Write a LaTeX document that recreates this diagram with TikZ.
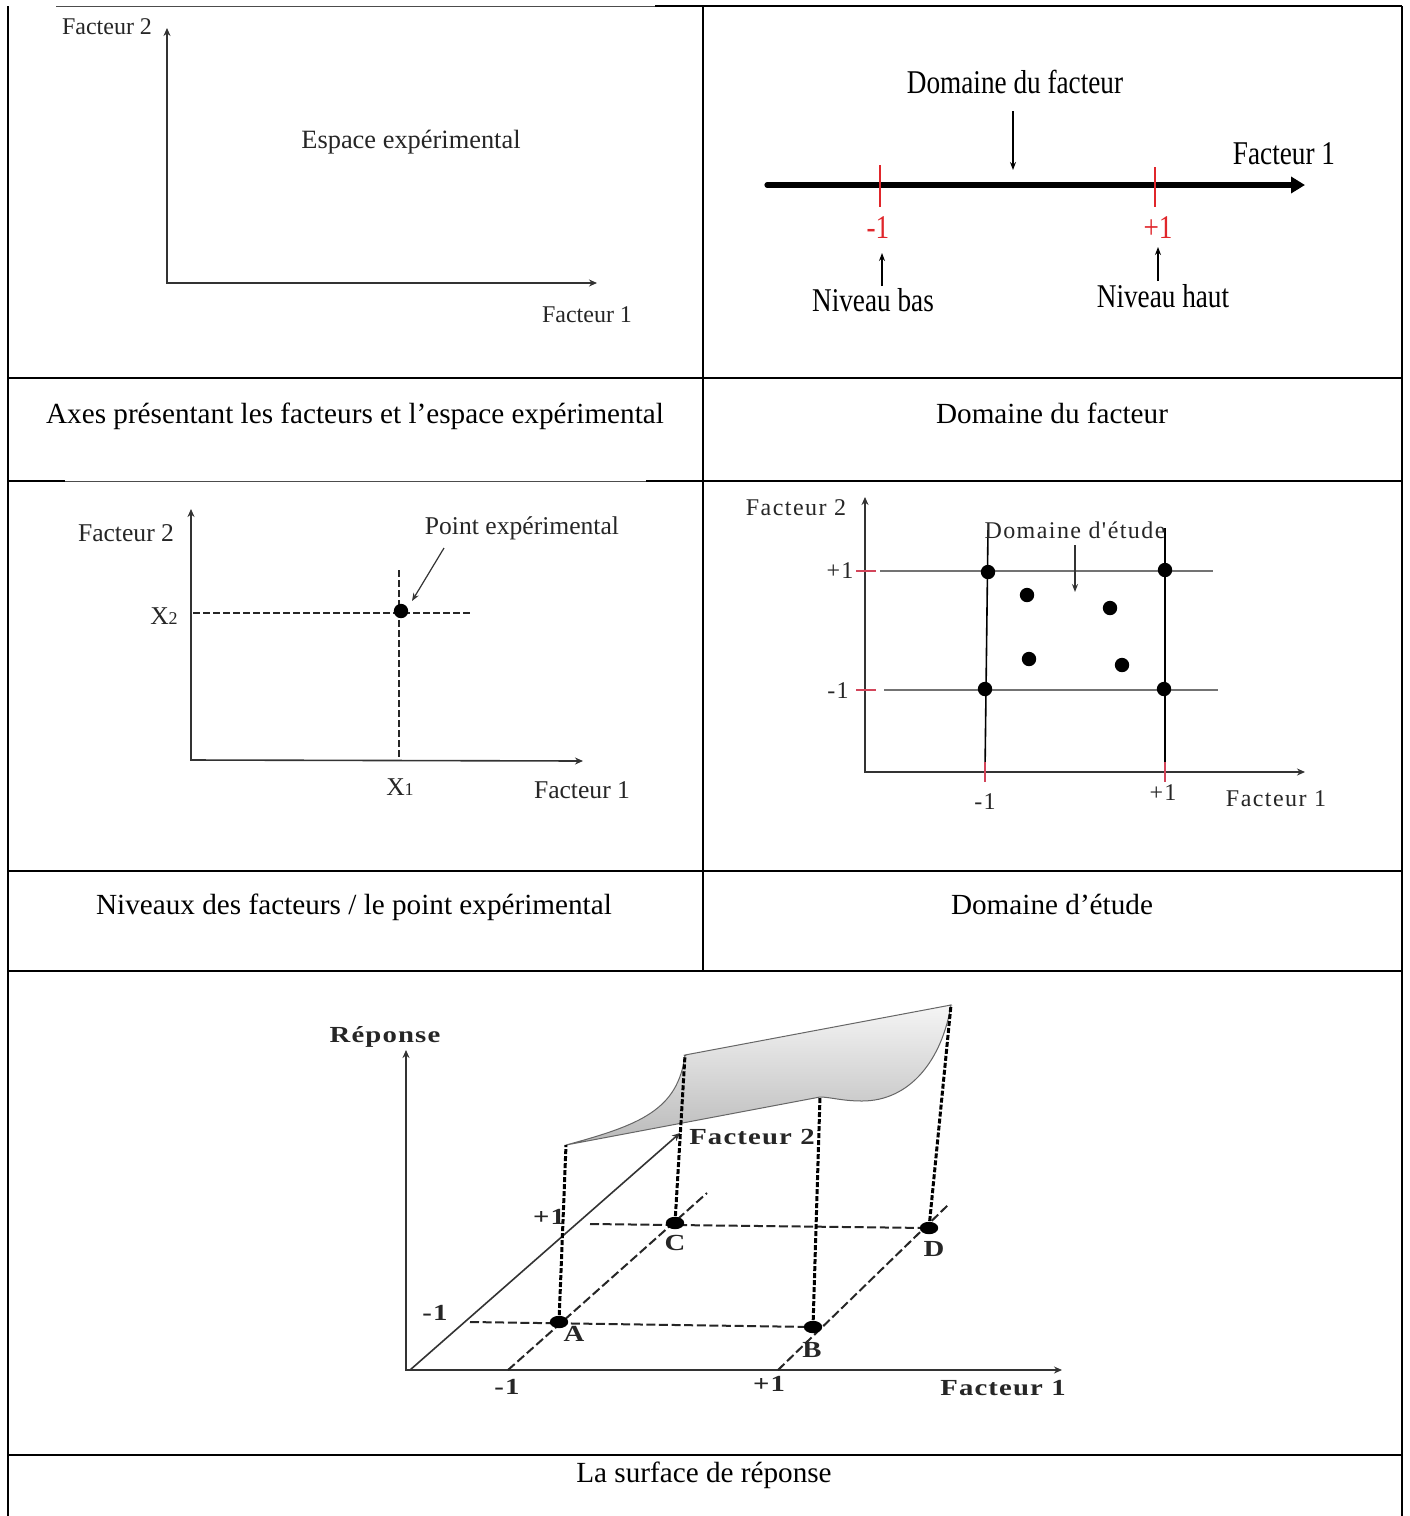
\documentclass[tikz,border=0pt]{standalone}
\usepackage{fontspec}
\setmainfont{Liberation Serif}
\newfontfamily\wideb[LetterSpace=4]{Liberation Serif}
\newfontfamily\lsp[LetterSpace=6]{Liberation Serif}
\usepackage{graphicx}
\usetikzlibrary{arrows.meta}
\definecolor{tickred}{HTML}{E0262B}
\definecolor{pinkred}{HTML}{D2455A}
\newcommand{\wtext}[1]{\scalebox{1.25}[1]{#1}}
\begin{document}
\begin{tikzpicture}[x=0.5pt,y=-0.5pt,
  tbl/.style={line width=1.3pt,black},
  thin tbl/.style={line width=0.5pt,black!70},
  captext/.style={inner sep=0pt,anchor=base,font=\fontsize{14.6}{17}\selectfont},
  axis/.style={line width=0.8pt,black!80,{Stealth[length=4pt,width=3.5pt]}-{Stealth[length=4pt,width=3.5pt]}},
  arr/.style={line width=0.6pt,black,-{Stealth[length=4pt,width=3pt]}},
  lab1/.style={inner sep=0pt,text=black!85,font=\fontsize{12}{14}\selectfont},
  lab2/.style={inner sep=0pt,font=\fontsize{16.6}{19}\selectfont},
  lab3/.style={inner sep=0pt,text=black!85,font=\fontsize{12.8}{15}\selectfont},
  lab4/.style={inner sep=0pt,text=black!85,font=\lsp\fontsize{12}{14}\selectfont},
  lab5/.style={inner sep=0pt,text=black!85,font=\wideb\bfseries\fontsize{11.5}{13}\selectfont},
  dot/.style={fill=black},
  dash5/.style={line width=1pt,black!85,dash pattern=on 4.5pt off 1.8pt},
  dots5/.style={line width=1.5pt,black,dash pattern=on 2.5pt off 1pt},
  gline/.style={line width=1.1pt,black!55},
  rtick/.style={line width=1.2pt,pinkred}
]
\useasboundingbox (0,0) rectangle (1409,1516);
\fill[white] (0,0) rectangle (1409,1516);

% ---------------- table ----------------
\draw[thin tbl] (56,6) -- (655,6);
\draw[tbl] (655,6) -- (1402,6);
\draw[tbl] (8,6) -- (8,1516);
\draw[tbl] (1402,6) -- (1402,1516);
\draw[tbl] (703,6) -- (703,971);
\draw[tbl] (8,378) -- (1402,378);
\draw[tbl] (8,481) -- (65,481);
\draw[thin tbl] (65,481) -- (646,481);
\draw[tbl] (646,481) -- (1402,481);
\draw[tbl] (8,871) -- (1402,871);
\draw[tbl] (8,971) -- (1402,971);
\draw[tbl] (8,1455) -- (1402,1455);

% ---------------- captions ----------------
\node[captext] (c1) at (355,423) {Axes présentant les facteurs et l’espace expérimental};
\node[captext] (c2) at (1052,423) {Domaine du facteur};
\node[captext] (c3) at (354,914) {Niveaux des facteurs / le point expérimental};
\node[captext] (c4) at (1052,914) {Domaine d’étude};
\node[captext] (c5) at (704,1482) {La surface de réponse};

% ---------------- panel 1 ----------------
\coordinate (o1) at (167,283);
\coordinate (o1y) at (167,28);
\coordinate (o1x) at (597,283);
\draw[axis] (o1y) -- (o1) -- (o1x);
\node[lab1] (p1f2) at (107,27) {Facteur 2};
\node[lab1,font=\fontsize{13.2}{15}\selectfont] (p1esp) at (411,142) {Espace expérimental};
\node[lab1] (p1f1) at (587,315) {Facteur 1};

% ---------------- panel 2 ----------------
\coordinate (l0) at (767,185);
\coordinate (l1) at (1305,185);
\draw[line width=2.6pt,line cap=round,-{Triangle[length=7pt,width=8pt]}] (l0) -- (l1);
\draw[line width=1.3pt,tickred] (880,165) -- (880,207);
\draw[line width=1.3pt,tickred] (1155,167) -- (1155,207);
\node[lab2,text=tickred] (m1) at (878,228) {\scalebox{0.82}[1]{-1}};
\node[lab2,text=tickred] (p1) at (1158,228) {\scalebox{0.82}[1]{+1}};
\node[lab2] (nb) at (873,300) {\scalebox{0.82}[1]{Niveau bas}};
\node[lab2] (nh) at (1163,296) {\scalebox{0.82}[1]{Niveau haut}};
\node[lab2] (dom) at (1015,82) {\scalebox{0.82}[1]{Domaine du facteur}};
\node[lab2] (p2f1) at (1284,154) {\scalebox{0.82}[1]{Facteur 1}};
\coordinate (nbA) at (882,286); \coordinate (nbB) at (882,253);
\coordinate (nhA) at (1158,281); \coordinate (nhB) at (1158,247);
\coordinate (domA) at (1013,111); \coordinate (domB) at (1013,170);
\draw[arr] (nbA) -- (nbB);
\draw[arr] (nhA) -- (nhB);
\draw[arr] (domA) -- (domB);

% ---------------- panel 3 ----------------
\coordinate (o3) at (191,760);
\coordinate (o3y) at (191,509);
\coordinate (o3x) at (583,761);
\draw[axis] (o3y) -- (o3) -- (o3x);
\coordinate (h3a) at (193,613); \coordinate (h3b) at (470,613);
\coordinate (v3a) at (399,570); \coordinate (v3b) at (399,760);
\draw[line width=0.9pt,black!85,dash pattern=on 3.5pt off 1.5pt] (h3a) -- (h3b);
\draw[line width=0.9pt,black!85,dash pattern=on 3.5pt off 1.5pt] (v3a) -- (v3b);
\fill[dot] (401,611) circle[radius=3.6pt];
\node[lab3] (p3f2) at (126,533) {Facteur 2};
\node[lab3] (x2) at (164,616) {X{\fontsize{9}{10}\selectfont 2}};
\node[lab3] (pexp) at (522,528) {Point expérimental};
\node[lab3] (x1) at (400,787) {X{\fontsize{9}{10}\selectfont 1}};
\node[lab3] (p3f1) at (582,790) {Facteur 1};
\coordinate (pA) at (444,548); \coordinate (pB) at (412,601);
\draw[line width=0.6pt,black!80,-{Stealth[length=4pt,width=3pt]}] (pA) -- (pB);

% ---------------- panel 4 ----------------
\coordinate (o4) at (865,772);
\coordinate (o4y) at (865,497);
\coordinate (o4x) at (1305,772);
\draw[axis] (o4y) -- (o4) -- (o4x);
\draw[gline] (880,571) -- (1213,571);
\draw[gline] (884,690) -- (1218,690);
\draw[line width=0.8pt,black] (988,530) -- (985,772);
\draw[line width=0.8pt,black] (1165,528) -- (1165,772);
\draw[rtick] (856,571) -- (876,571);
\draw[rtick] (856,690) -- (876,690);
\draw[rtick] (985,762) -- (985,782);
\draw[rtick] (1165,762) -- (1165,782);
\foreach \p in {(988,572),(1165,570),(985,689),(1164,689),(1027,595),(1110,608),(1029,659),(1122,665)}
  \fill[dot] \p circle[radius=3.6pt];
\node[lab4] (p4f2) at (796,508) {Facteur 2};
\node[lab4] (p4f1) at (1276,799) {Facteur 1};
\node[lab4] (p4p1y) at (840,571) {+1};
\node[lab4] (p4m1y) at (838,691) {-1};
\node[lab4] (p4m1x) at (985,802) {-1};
\node[lab4] (p4p1x) at (1163,793) {+1};
\node[lab4] (detu) at (1075,530) {Domaine d'étude};
\coordinate (dA) at (1075,545); \coordinate (dB) at (1075,592);
\draw[line width=0.6pt,black!80,-{Stealth[length=4pt,width=3pt]}] (dA) -- (dB);

% ---------------- panel 5 ----------------
\coordinate (o5) at (406,1370);
\coordinate (o5y) at (406,1050);
\coordinate (o5x) at (1062,1370);
\draw[axis] (o5y) -- (o5) -- (o5x);
\coordinate (f2a) at (410,1370); \coordinate (f2b) at (680,1133);
\draw[line width=0.8pt,black!80,-{Stealth[length=4pt,width=3.5pt]}] (f2a) -- (f2b);

\coordinate (A) at (559,1322);
\coordinate (B) at (813,1327);
\coordinate (C) at (675,1223);
\coordinate (D) at (929,1228);
\coordinate (S1) at (566,1145);
\coordinate (S2) at (685,1055);
\coordinate (S3) at (820,1097);
\coordinate (S4) at (951,1005);

% surface
\shade[top color=gray!8,bottom color=gray!55,draw=black!60,line width=0.5pt]
  (S1) .. controls (640,1125) and (678,1110) .. (S2)
  -- (S4)
  .. controls (942,1060) and (910,1101) .. (862,1101)
  .. controls (842,1101) and (830,1097) .. (S3)
  -- cycle;

% dashed grid
\coordinate (d1a) at (508,1370); \coordinate (d1b) at (707,1193);
\coordinate (d2a) at (778,1370); \coordinate (d2b) at (948,1205);
\coordinate (hAa) at (470,1322);
\coordinate (hCa) at (590,1224);
\draw[dash5] (d1a) -- (d1b);
\draw[dash5] (d2a) -- (d2b);
\draw[dash5] (hAa) -- (B);
\draw[dash5] (hCa) -- (D);

% verticals
\draw[dots5] (A) -- (S1);
\draw[dots5] (C) -- (S2);
\draw[dots5] (B) -- (S3);
\draw[dots5] (D) -- (S4);

\foreach \q in {A,B,C,D}
  \fill[dot] (\q) ellipse[x radius=4.6pt,y radius=3.1pt];

\node[lab5] (rep) at (385,1037) {\wtext{Réponse}};
\node[lab5] (p5f1) at (1003,1388) {\wtext{Facteur 1}};
\node[lab5] (p5f2) at (752,1137) {\wtext{Facteur 2}};
\node[lab5] (p5m1x) at (507,1387) {\wtext{-1}};
\node[lab5] (p5p1x) at (769,1384) {\wtext{+1}};
\node[lab5] (p5m1y) at (435,1313) {\wtext{-1}};
\node[lab5] (p5p1y) at (549,1217) {\wtext{+1}};
\node[lab5] (lA) at (574,1334) {\wtext{A}};
\node[lab5] (lB) at (812,1350) {\wtext{B}};
\node[lab5] (lC) at (675,1243) {\wtext{C}};
\node[lab5] (lD) at (934,1249) {\wtext{D}};
\end{tikzpicture}
\end{document}
